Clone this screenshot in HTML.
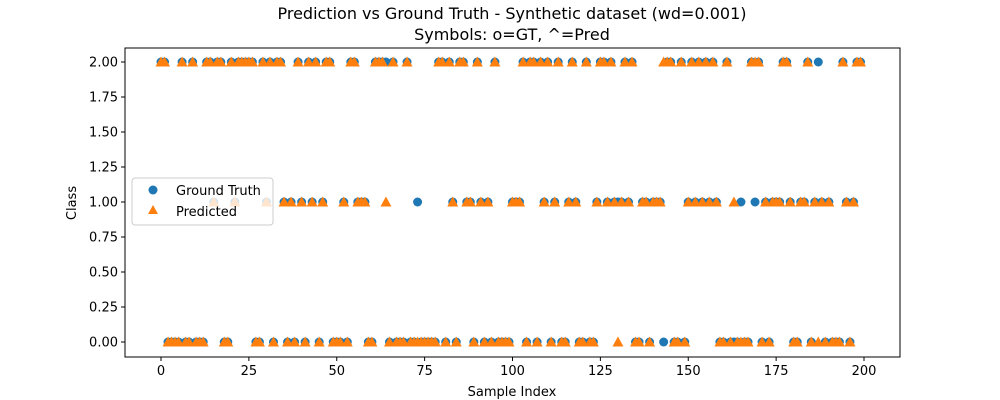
<!DOCTYPE html>
<html><head><meta charset="utf-8"><style>body{margin:0;background:#fff}svg{display:block;font-family:"DejaVu Sans","Liberation Sans",sans-serif}</style></head>
<body>
<svg id="chart" width="1000" height="400">
<text x="512" y="19" text-anchor="middle" font-size="16">Prediction vs Ground Truth - Synthetic dataset (wd=0.001)</text>
<text x="512" y="40" text-anchor="middle" font-size="16">Symbols: o=GT, ^=Pred</text>
<rect x="125" y="48" width="775" height="309" fill="none" stroke="#000" stroke-width="1"/>
<g id="ticks"></g>
<g id="marks"></g>
<text x="512" y="396" text-anchor="middle" font-size="13">Sample Index</text>
<text transform="translate(76,203) rotate(-90)" text-anchor="middle" font-size="13">Class</text>
<g>
<rect x="132" y="178" width="141" height="47" rx="3" fill="#fff" fill-opacity="0.8" stroke="#ccc"/>
<circle cx="153" cy="190" r="4.5" fill="#1f77b4"/>
<text x="176" y="195" font-size="13">Ground Truth</text>
<polygon points="153,205 158,214 148,214" fill="#ff7f0e"/>
<text x="176" y="216" font-size="13">Predicted</text>
</g>
</svg>
<script>
const gtStr = "TTBBBBTBBTBBBTTMTTBBTMTTTTTBBTMTBTTMBMBTMBTMTBMTTBBBMBTTMMMBBTTTTBTBBBTBBMBBBBBTTBTMBTTMMBTMBMBTBBBBMMMTBTTBTMTBMTBBMTMBBTBBMTTMTMMMTMTBBMMBMMMBTTBBTBMTMTMTMTMBBTBBBMBBTMTBMBMMMTTMBBMMTBMTMBMBBBTMBMTT";
const predOverrides = [[64,"M"],[73,"B"],[130,"B"],[143,"T"],[163,"M"],[165,"B"],[169,"T"],[187,"B"]];
const xTicks = [0,25,50,75,100,125,150,175,200];
const yTicks = [0,0.25,0.5,0.75,1.0,1.25,1.5,1.75,2.0];
const classMap = {B:0,M:1,T:2};
const gt = gtStr.split("").map(c=>classMap[c]);
const pred = gt.slice();
predOverrides.forEach(([i,c])=>{pred[i]=classMap[c];});

const NS="http://www.w3.org/2000/svg";
const X = v => 161 + v*3.515;
const Y = v => 342 - v*140;
const ticks=document.getElementById('ticks'), marks=document.getElementById('marks');
function mk(tag, attrs, parent){const e=document.createElementNS(NS,tag);for(const k in attrs)e.setAttribute(k,attrs[k]);parent.appendChild(e);return e;}
xTicks.forEach(t=>{
  const l=mk('line',{x1:X(t),x2:X(t),y1:357,y2:361,stroke:'#000'},ticks);
  
  
  const tx=mk('text',{x:X(t),y:375,'text-anchor':'middle','font-size':13},ticks);
  tx.textContent=t;
  
  
});
yTicks.forEach(t=>{
  const l=mk('line',{x1:121,x2:125,y1:Y(t),y2:Y(t),stroke:'#000'},ticks);
  
  
  const tx=mk('text',{x:118,y:Y(t)+4.5,'text-anchor':'end','font-size':13},ticks);
  tx.textContent=t.toFixed(2);
  
  
});
gt.forEach((v,i)=>{
  const c=mk('circle',{cx:X(i),cy:Y(v),r:4.5,fill:'#1f77b4'},marks);
  
  
});
pred.forEach((v,i)=>{
  const x=X(i),y=Y(v);
  const p=mk('polygon',{points:`${x},${y-5.5} ${x+5.5},${y+4.5} ${x-5.5},${y+4.5}`,fill:'#ff7f0e'},marks);
  
  
});
</script>
</body></html>
